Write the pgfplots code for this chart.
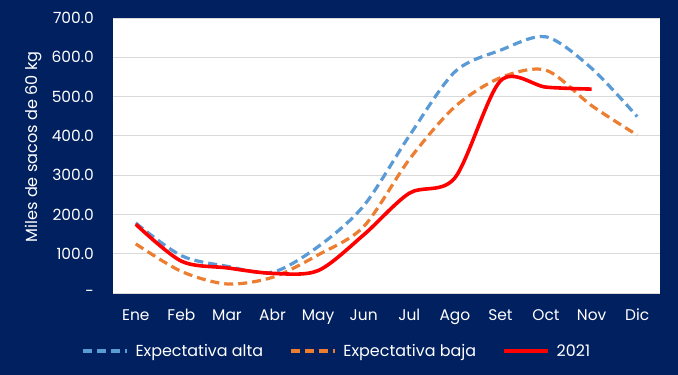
\documentclass[border=0pt]{standalone}
\usepackage{pgfplots}
\pgfplotsset{compat=1.18}
\usepackage{fontspec}
\setmainfont{Poppins}
\definecolor{navy}{HTML}{002060}
\definecolor{alta}{HTML}{5B9BD5}
\definecolor{baja}{HTML}{ED7D31}
\definecolor{gridc}{HTML}{D9D9D9}
\begin{document}
\begin{tikzpicture}
\fill[navy] (0bp,0bp) rectangle (678bp,375bp);
\useasboundingbox (0bp,0bp) rectangle (678bp,375bp);
\begin{axis}[
  at={(113bp,82bp)}, anchor=south west,
  scale only axis, width=547bp, height=275bp,
  xmin=-0.5, xmax=11.5, ymin=0, ymax=700,
  axis background/.style={fill=white},
  axis line style={draw=none},
  major tick length=0pt,
  xtick={0,...,11},
  xticklabels={Ene,Feb,Mar,Abr,May,Jun,Jul,Ago,Set,Oct,Nov,Dic},
  ytick={0,100,...,700},
  yticklabels={{-\hspace{8bp}},100.0,200.0,300.0,400.0,500.0,600.0,700.0},
  ymajorgrids, major grid style={draw=gridc, line width=0.9bp},
  /pgf/number format/assume math mode=true,
  tick label style={font=\fontsize{15.5}{18}\selectfont, text=white},
  xticklabel style={anchor=base, yshift=-27bp},
  yticklabel style={anchor=east, inner sep=0pt, xshift=-19bp},
  ylabel={Miles de sacos de 60 kg},
  every axis y label/.style={at={(axis description cs:-0.146,0.531)}, rotate=90, anchor=center,
    font=\fontsize{16.2}{18}\selectfont, text=white},
  legend columns=3,
  legend style={draw=none, fill=none, text=white, font=\fontsize{16}{18}\selectfont,
    at={(axis description cs:0.409,-0.211)}, anchor=center,
    /tikz/every odd column/.append style={column sep=5bp},
    /tikz/every even column/.append style={column sep=24bp}},
  legend image code/.code={\draw[#1] (0bp,0bp) -- (44bp,0bp);},
  clip=false,
]
\addplot[alta, line width=3.2bp, dash pattern=on 9bp off 5bp, smooth] coordinates {
(0,178) (1,95) (2,68) (3,53) (4,118) (5,222) (6,400) (7,563) (8,618) (9,652) (10,572) (11,449)};
\addlegendentry{Expectativa alta}
\addplot[baja, line width=3.2bp, dash pattern=on 9bp off 5bp, smooth] coordinates {
(0,125) (1,55) (2,23) (3,40) (4,97) (5,169) (6,340) (7,474) (8,548) (9,567) (10,477) (11,402)};
\addlegendentry{Expectativa baja}
\addplot[red, line width=3.6bp, smooth] coordinates {
(0,175) (1,81) (2,64) (3,50) (4,57) (5,148) (6,254) (7,293) (8,540) (9,524) (10,519)};
\addlegendentry{2021}
\end{axis}
\end{tikzpicture}
\end{document}
